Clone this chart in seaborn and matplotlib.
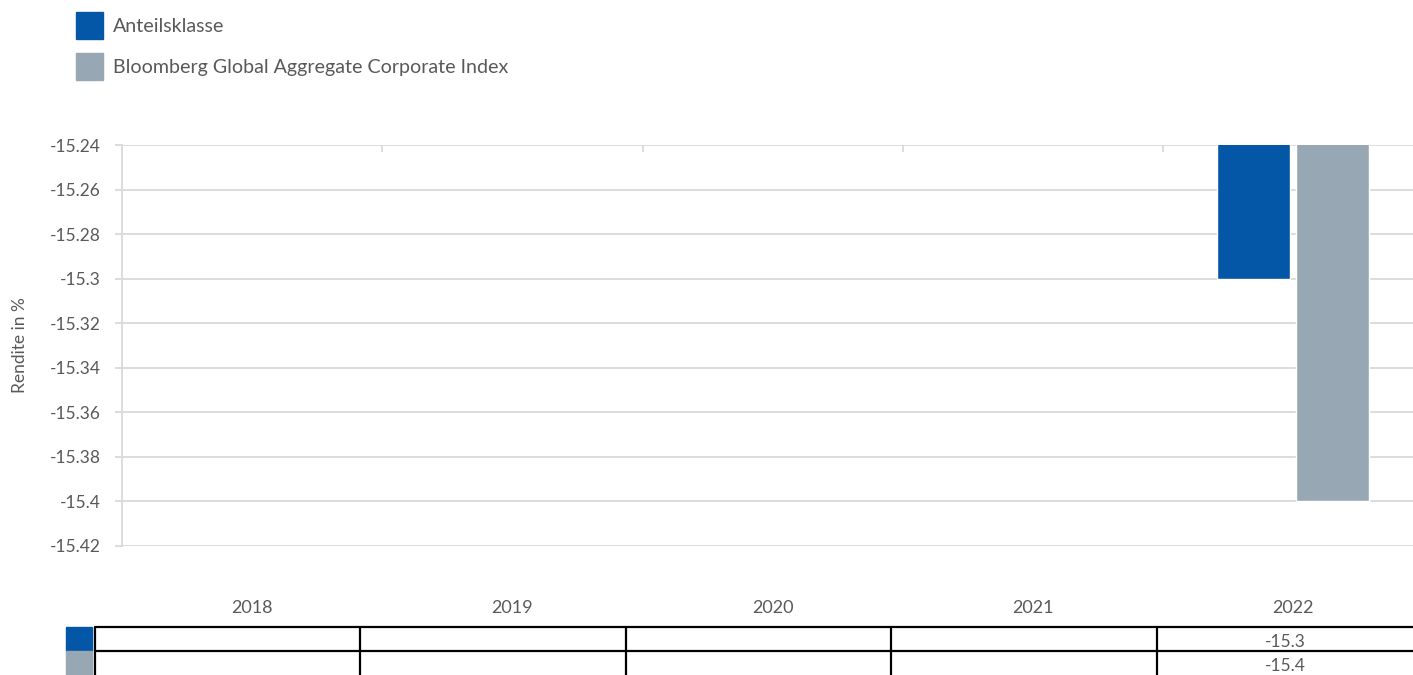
import numpy as np
import pandas as pd
import matplotlib
matplotlib.use("Agg")
import matplotlib.pyplot as plt
from matplotlib.lines import Line2D
from matplotlib.patches import Rectangle
import seaborn as sns

# ---- data ----
years = ["2018", "2019", "2020", "2021", "2022"]
fund = [np.nan, np.nan, np.nan, np.nan, -15.3]
index = [np.nan, np.nan, np.nan, np.nan, -15.4]
series_names = ["Anteilsklasse", "Bloomberg Global Aggregate Corporate Index"]
colors = ["#0357A6", "#97A8B4"]
y_ticks = [-15.42, -15.40, -15.38, -15.36, -15.34, -15.32, -15.30, -15.28, -15.26, -15.24]
y_label = "Rendite in %"

df = pd.DataFrame({
    "Jahr": years * 2,
    "Serie": [series_names[0]] * len(years) + [series_names[1]] * len(years),
    "Wert": fund + index,
})

sns.set_theme(style="white")
plt.rcParams["font.family"] = ["Lato", "DejaVu Sans"]
TXT = "#595959"
GRID = "#d9d9d9"
FS = 12.5

W, H = 1413, 675
fig = plt.figure(figsize=(W / 100, H / 100), dpi=100)
ax = fig.add_axes([122 / W, 1 - 546 / H, 1 - 122 / W, (546 - 145) / H])

sns.barplot(data=df, x="Jahr", y="Wert", hue="Serie", order=years,
            hue_order=series_names, palette=colors, width=0.61, gap=0.08,
            saturation=1, ax=ax, legend=False, errorbar=None)

ax.set_ylim(y_ticks[0], y_ticks[-1])
ax.set_xlim(-0.5, 4.46)
ax.set_yticks(y_ticks)
ax.set_yticklabels([f"{v:.2f}".rstrip("0") for v in y_ticks])
ax.yaxis.grid(True, color=GRID, linewidth=1.3)
ax.set_axisbelow(True)
for s in ["top", "right", "bottom"]:
    ax.spines[s].set_visible(False)
ax.spines["left"].set_color(GRID)
ax.spines["left"].set_linewidth(1.3)
ax.tick_params(axis="y", length=5, color=GRID, width=1.3, pad=10.5,
               labelsize=FS, labelcolor=TXT, left=True)
ax.tick_params(axis="x", length=0, pad=39, labelsize=13, labelcolor=TXT)
ax.set_xlabel("")
ax.set_ylabel(y_label, fontsize=FS, color=TXT, labelpad=15.5)

# small boundary ticks on top edge
ax.set_xticks([i + 0.5 for i in range(len(years) - 1)], minor=True)
ax.tick_params(axis="x", which="minor", top=True, bottom=False, direction="in",
               length=5, color=GRID, width=1.3)

# legend
LFS = 14.1
handles = [Rectangle((0, 0), 1, 1, color=c) for c in colors]
fig.legend(handles, series_names, loc="upper left",
           bbox_to_anchor=(76 / W, 1 - 12 / H), frameon=False, fontsize=LFS,
           labelcolor=TXT, handlelength=1.38, handleheight=1.75,
           handletextpad=0.51, labelspacing=0.72, borderaxespad=0, borderpad=0)

# data table below chart
def fx(px):
    return px / W

def fy(py):
    return 1 - py / H

row_y = [627, 651, 675]
col_x = [95, 360, 626, 891, 1157, 1413]
for yy in row_y[:2]:
    fig.add_artist(Line2D([fx(col_x[0]), 1], [fy(yy), fy(yy)], color="black", lw=1.6))
for xx in col_x[:-1]:
    fig.add_artist(Line2D([fx(xx), fx(xx)], [fy(row_y[0]), 0], color="black", lw=1.6))
for r, (c, vals) in enumerate(zip(colors, [fund, index])):
    fig.add_artist(Rectangle((fx(66), fy(row_y[r + 1])), fx(92) - fx(66),
                             fy(row_y[r]) - fy(row_y[r + 1]), color=c,
                             transform=fig.transFigure))
    for j, v in enumerate(vals):
        if not np.isnan(v):
            cx = (col_x[j] + col_x[j + 1]) / 2
            fig.text(fx(cx), fy((row_y[r] + row_y[r + 1]) / 2 + 3), f"{v:g}",
                     ha="center", va="center", fontsize=FS, color=TXT)

fig.savefig("out.png", dpi=100)
